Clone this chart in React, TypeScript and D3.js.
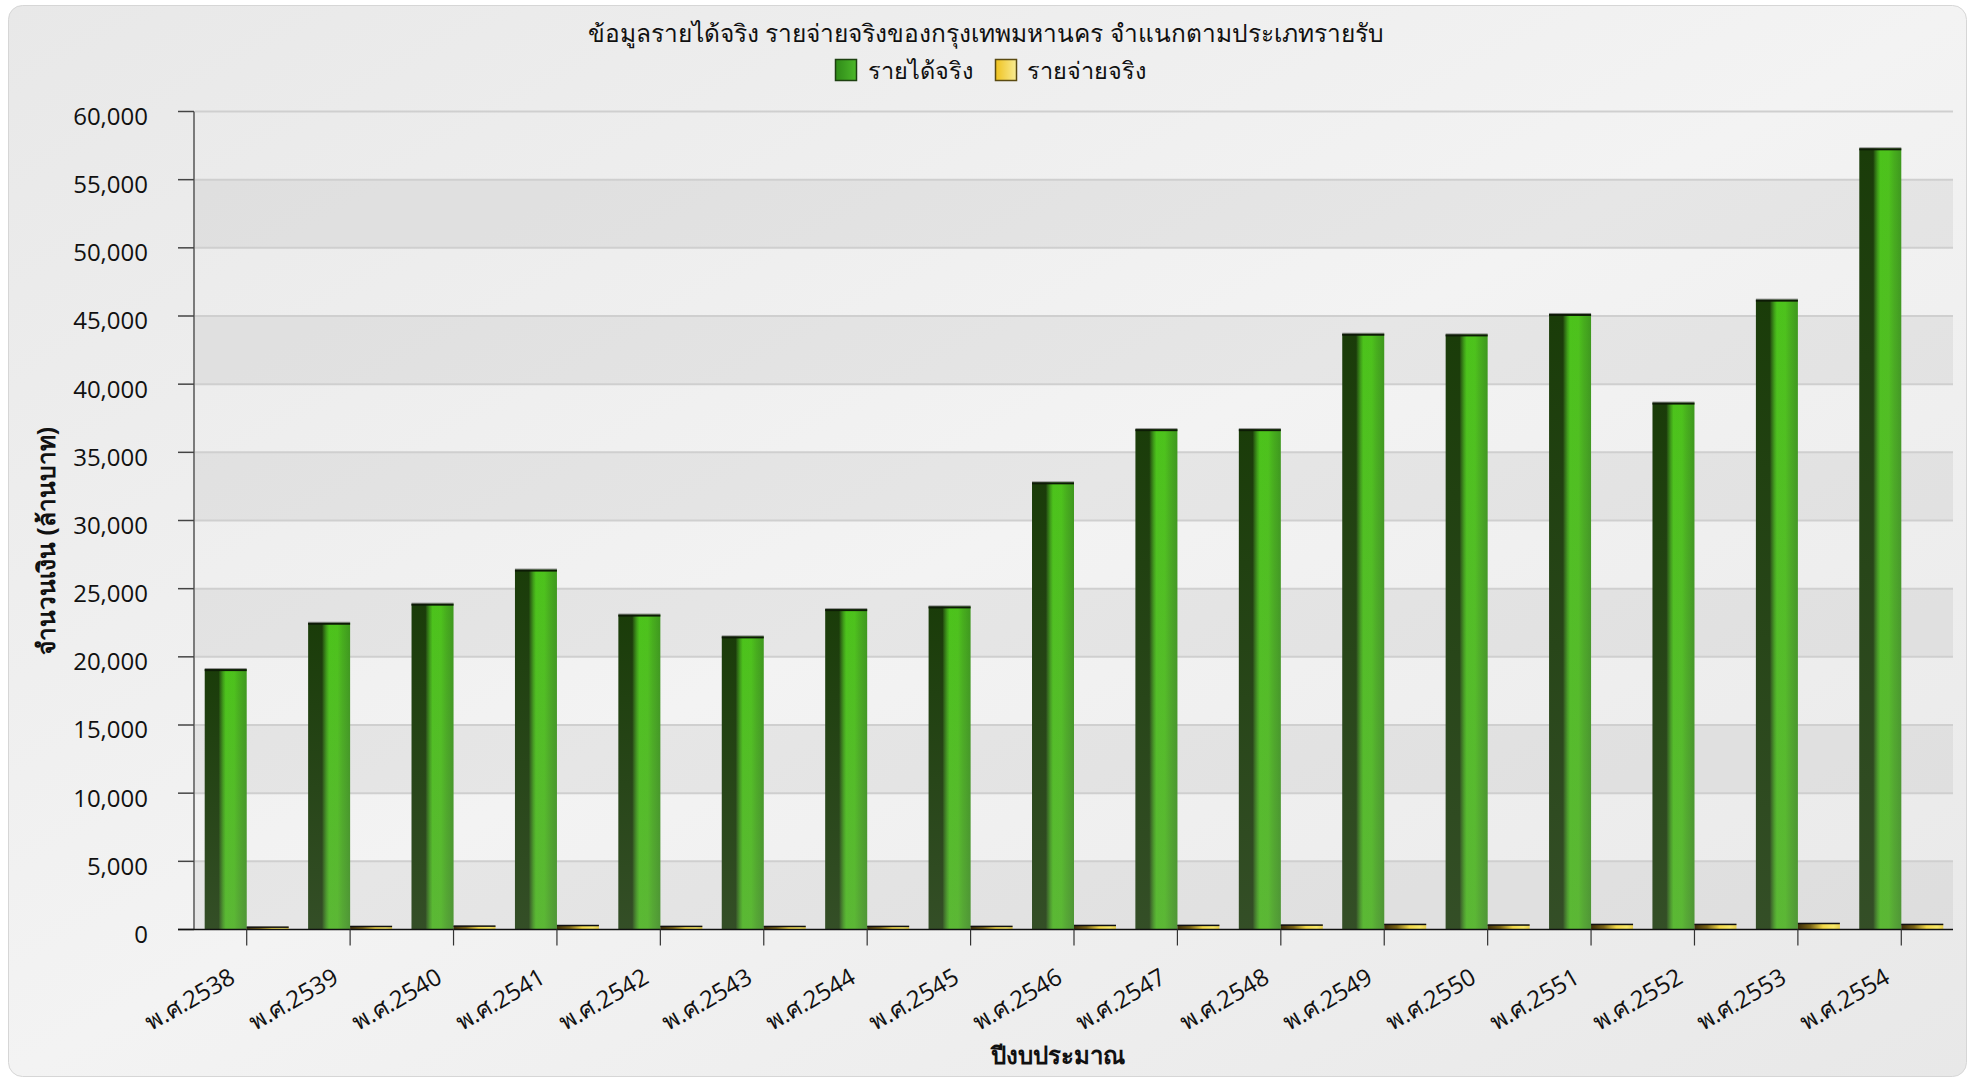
import * as d3 from "d3";

const years = [
  "2538", "2539", "2540", "2541", "2542", "2543", "2544", "2545", "2546",
  "2547", "2548", "2549", "2550", "2551", "2552", "2553", "2554",
];
const yearLabels = years.map((y) => `พ.ศ.${y}`);
// รายได้จริง (ล้านบาท)
const revenue = [
  19100, 22500, 23900, 26400, 23100, 21500, 23500, 23700, 32800,
  36700, 36700, 43700, 43650, 45150, 38650, 46200, 57300,
];
// รายจ่ายจริง (ล้านบาท)
const expense = [
  190, 240, 265, 310, 245, 240, 245, 245, 315,
  320, 340, 390, 345, 390, 390, 460, 390,
];
const seriesNames = ["รายได้จริง", "รายจ่ายจริง"];
const yTicks = d3.range(0, 60001, 5000);

const title = "ข้อมูลรายได้จริง รายจ่ายจริงของกรุงเทพมหานคร จำแนกตามประเภทรายรับ";
const yTitle = "จำนวนเงิน (ล้านบาท)";
const xTitle = "ปีงบประมาณ";

const W = 1975;
const H = 1082;
const plot = { left: 195, right: 1953, top: 111.5, bottom: 929.5 };
const font = "'Open Sans', 'Noto Sans', sans-serif";

export default function App() {
  const x = d3
    .scaleBand<string>()
    .domain(years)
    .range([plot.left, plot.right])
    .paddingInner(0.188)
    .paddingOuter(0.094);
  const x1 = d3.scaleBand<number>().domain([0, 1]).range([0, x.bandwidth()]);
  const y = d3.scaleLinear().domain([0, 60000]).range([plot.bottom, plot.top]);
  const fmt = d3.format(",");

  return (
    <div style={{ position: "absolute", left: 0, top: 0 }}>
      <svg width={W} height={H} style={{ display: "block" }}>
        <defs>
          <linearGradient id="card" x1="0" y1="0" x2="1" y2="1">
            <stop offset="0" stopColor="#e8e8e8" />
            <stop offset="0.5" stopColor="#f3f3f3" />
            <stop offset="1" stopColor="#e8e8e8" />
          </linearGradient>
          <linearGradient id="green" x1="0" y1="0" x2="1" y2="0">
            <stop offset="0" stopColor="#1a3c09" />
            <stop offset="0.33" stopColor="#1a3c09" />
            <stop offset="0.37" stopColor="#2b6512" />
            <stop offset="0.44" stopColor="#3f9f18" />
            <stop offset="0.5" stopColor="#4cc31b" />
            <stop offset="0.7" stopColor="#4dc21c" />
            <stop offset="0.82" stopColor="#47ae1d" />
            <stop offset="1" stopColor="#3e981e" />
          </linearGradient>
          <linearGradient id="greenShade" x1="0" y1="0" x2="0" y2="1">
            <stop offset="0" stopColor="#909090" stopOpacity="0" />
            <stop offset="1" stopColor="#909090" stopOpacity="0.22" />
          </linearGradient>
          <linearGradient id="yellow" x1="0" y1="0" x2="1" y2="0">
            <stop offset="0" stopColor="#3d2e08" />
            <stop offset="0.3" stopColor="#7a6414" />
            <stop offset="0.6" stopColor="#f2d848" />
            <stop offset="0.85" stopColor="#f8e868" />
            <stop offset="1" stopColor="#e8d050" />
          </linearGradient>
          <linearGradient id="legGreen" x1="0" y1="0" x2="1" y2="0">
            <stop offset="0" stopColor="#2f8a18" />
            <stop offset="1" stopColor="#4cb82a" />
          </linearGradient>
          <linearGradient id="legYellow" x1="0" y1="0" x2="1" y2="0">
            <stop offset="0" stopColor="#efc21e" />
            <stop offset="1" stopColor="#f8ec94" />
          </linearGradient>
        </defs>

        <rect x={0} y={0} width={W} height={H} fill="#ffffff" />
        <rect
          x={8.5}
          y={5.5}
          width={1958}
          height={1071}
          rx={14}
          fill="url(#card)"
          stroke="#d6d6d6"
        />

        {/* plot bands */}
        {yTicks.slice(0, -1).map((t, i) => (
          <rect
            key={`b${t}`}
            x={plot.left}
            y={y(t + 5000)}
            width={plot.right - plot.left}
            height={y(t) - y(t + 5000)}
            fill={i % 2 === 0 ? "#000" : "#fff"}
            fillOpacity={i % 2 === 0 ? 0.05 : 0.04}
          />
        ))}
        {yTicks.slice(1).map((t) => (
          <line
            key={`g${t}`}
            x1={plot.left}
            x2={plot.right}
            y1={y(t)}
            y2={y(t)}
            stroke="#cfcfcf"
            strokeWidth={2}
          />
        ))}

        {/* bars */}
        {years.map((yr, i) => {
          const gx = (x(yr) ?? 0) + (x1(0) ?? 0);
          const yx = (x(yr) ?? 0) + (x1(1) ?? 0);
          const bw = x1.bandwidth();
          return (
            <g key={yr}>
              <rect x={gx} y={y(revenue[i])} width={bw} height={y(0) - y(revenue[i])} fill="url(#green)" />
              <rect x={gx} y={y(revenue[i])} width={bw} height={y(0) - y(revenue[i])} fill="url(#greenShade)" />
              <rect x={gx} y={y(revenue[i]) - 1} width={bw} height={1} fill="#8a8a8a" />
              <rect x={gx} y={y(revenue[i])} width={bw} height={2} fill="#0d1a06" />
              <rect x={yx} y={y(expense[i])} width={bw} height={y(0) - y(expense[i])} fill="url(#yellow)" />
              <rect x={yx} y={y(expense[i]) - 0.5} width={bw} height={1.5} fill="#111" />
            </g>
          );
        })}

        {/* y axis */}
        <line x1={194} x2={194} y1={plot.top} y2={plot.bottom} stroke="#555" strokeWidth={1.5} />
        {yTicks.map((t) => (
          <g key={`yt${t}`}>
            <line x1={178} x2={194} y1={y(t)} y2={y(t)} stroke="#444" strokeWidth={1.5} />
            <text
              x={148}
              y={y(t) + 5}
              dy="0.35em"
              textAnchor="end"
              fontFamily={font}
              fontSize={24}
              fill="#111"
            >
              {fmt(t)}
            </text>
          </g>
        ))}

        {/* x axis */}
        <line x1={178} x2={plot.right} y1={plot.bottom} y2={plot.bottom} stroke="#111" strokeWidth={1.5} />
        {years.map((yr, i) => {
          const cx = (x(yr) ?? 0) + x.bandwidth() / 2;
          return (
            <g key={`xt${yr}`}>
              <line x1={cx} x2={cx} y1={plot.bottom} y2={plot.bottom + 16} stroke="#333" strokeWidth={1.2} />
              <text
                transform={`translate(${cx - 10},982) rotate(-30)`}
                textAnchor="end"
                fontFamily={font}
                fontSize={24}
                fill="#111"
              >
                {yearLabels[i]}
              </text>
            </g>
          );
        })}

        {/* titles */}
        <text x={986} y={33} dy="0.35em" textAnchor="middle" fontFamily={font} fontSize={24.5} fill="#111">
          {title}
        </text>
        <text
          transform="translate(46,541) rotate(-90)"
          dy="0.35em"
          textAnchor="middle"
          fontFamily={font}
          fontSize={24.5}
          fontWeight="bold"
          fill="#111"
        >
          {yTitle}
        </text>
        <text x={1058} y={1056} dy="0.35em" textAnchor="middle" fontFamily={font} fontSize={24} fontWeight="bold" fill="#111">
          {xTitle}
        </text>

        {/* legend */}
        <rect x={835.5} y={59.5} width={21} height={21} fill="url(#legGreen)" stroke="#1d4010" strokeWidth={1.5} />
        <text x={868} y={70.5} dy="0.35em" fontFamily={font} fontSize={23.5} fill="#111">
          {seriesNames[0]}
        </text>
        <rect x={995.5} y={59.5} width={21} height={21} fill="url(#legYellow)" stroke="#5a4a10" strokeWidth={1.5} />
        <text x={1027} y={70.5} dy="0.35em" fontFamily={font} fontSize={23.5} fill="#111">
          {seriesNames[1]}
        </text>
      </svg>
    </div>
  );
}
